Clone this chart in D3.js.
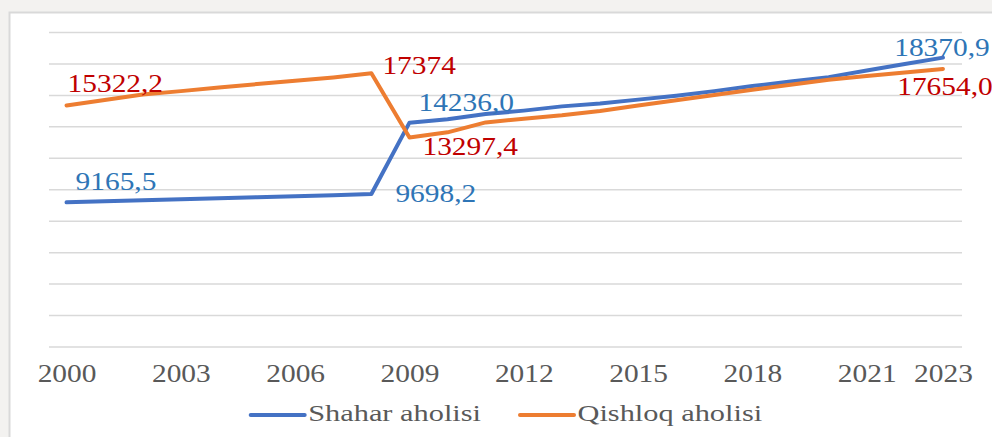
<!DOCTYPE html>
<html lang="uz">
  <head>
    <meta charset="utf-8">
    <title>Shahar va qishloq aholisi</title>
    <script src="https://d3js.org/d3.v7.min.js"></script>
    <style>
      body { margin: 0; background: #f3f2f0; }
      svg { display: block; }
      svg text { font-family: "Liberation Serif", "Times New Roman", "DejaVu Serif", serif; }
    </style>
  </head>
  <body>
    <script type="text/javascript">
    // data
    var years = d3.range(2000, 2024);
    var tickYears = [2000, 2003, 2006, 2009, 2012, 2015, 2018, 2021, 2023];
    var seriesNames = ["Shahar aholisi", "Qishloq aholisi"];
    var shahar = [9165.5, 9230, 9295, 9360, 9425, 9490, 9555, 9620, 9698.2,
                  14236.0, 14450, 14780, 15000, 15270, 15450, 15700, 15950,
                  16240, 16560, 16850, 17130, 17550, 17960, 18370.9];
    var qishloq = [15322.2, 15680, 16020, 16240, 16470, 16690, 16900, 17110, 17374,
                   13297.4, 13620, 14250, 14480, 14700, 14980, 15320, 15660,
                   15990, 16330, 16650, 16960, 17200, 17430, 17654.0];
    // years whose values get a label, with the text shown
    var shaharLabels = [[2000, "9165,5"], [2008, "9698,2"], [2009, "14236,0"], [2023, "18370,9"]];
    var qishloqLabels = [[2000, "15322,2"], [2008, "17374"], [2009, "13297,4"], [2023, "17654,0"]];

    var w = 992;
    var h = 437;
    var stretch = 1.2;   // the source picture is widened a bit
    var colors = ["#4472C4", "#ED7D31"];
    var labelColors = ["#2E75B6", "#C00000"];

    // label placement relative to its point: [dx, dy, anchor]
    var labelOffsets = [
      { 2000: [9, -12, "start"], 2008: [24, 8, "start"], 2009: [9, -12, "start"], 2023: [-1, -2, "middle"] },
      { 2000: [1, -14, "start"], 2008: [11, 1, "start"], 2009: [13, 18, "start"], 2023: [2, 26, "middle"] }
    ];

    var xScale = d3.scaleLinear()
                   .domain([1999.5, 2023.5])
                   .range([47.5, 962]);

    var yScale = d3.scaleLinear()
                   .domain([0, 20000])
                   .range([346.5, 32]);

    var svg = d3.select("body")
                .append("svg")
                .attr("width", w)
                .attr("height", h);

    svg.append("rect")
       .attr("width", w).attr("height", h)
       .attr("fill", "#f3f2f0");

    svg.append("rect")
       .attr("x", 9.5).attr("y", 12.5)
       .attr("width", w).attr("height", h)
       .attr("fill", "#ffffff")
       .attr("stroke", "#d9d9d9")
       .attr("stroke-width", 2);

    // gridlines
    var yAxis = d3.axisLeft(yScale)
                  .tickValues(d3.range(0, 20001, 2000))
                  .tickSize(-(962 - 49))
                  .tickFormat("");

    var grid = svg.append("g")
                  .attr("transform", "translate(49,0)")
                  .call(yAxis);
    grid.select(".domain").remove();
    grid.selectAll(".tick line")
        .attr("stroke", "#d9d9d9")
        .attr("stroke-width", 1.5);

    // x axis
    var xAxis = d3.axisBottom(xScale)
                  .tickValues(tickYears)
                  .tickSize(0)
                  .tickFormat(d3.format("d"));

    var xg = svg.append("g")
                .attr("transform", "translate(0," + yScale(0) + ")")
                .call(xAxis)
                .attr("font-family", null);
    xg.select(".domain").remove();
    xg.selectAll("text")
      .attr("y", 35.2)
      .attr("dy", null)
      .attr("transform", "scale(" + stretch + ",1)")
      .attr("font-size", "24.5px")
      .attr("fill", "#595959");

    // lines
    var allSeries = [shahar, qishloq];
    var line = d3.line()
                 .x(function(d, i) { return xScale(years[i]); })
                 .y(function(d) { return yScale(d); });

    svg.selectAll("path.series")
       .data(allSeries)
       .enter()
       .append("path")
       .attr("class", "series")
       .attr("d", line)
       .attr("fill", "none")
       .attr("stroke", function(d, i) { return colors[i]; })
       .attr("stroke-width", 4)
       .attr("stroke-linejoin", "round")
       .attr("stroke-linecap", "round");

    // data labels
    [shaharLabels, qishloqLabels].forEach(function(labels, s) {
      labels.forEach(function(l) {
        var yr = l[0];
        var val = allSeries[s][years.indexOf(yr)];
        var off = labelOffsets[s][yr];
        svg.append("g")
           .attr("transform", "translate(" + (xScale(yr) + off[0]) + "," + (yScale(val) + off[1]) + ")")
           .append("text")
           .attr("transform", "scale(" + stretch + ",1)")
           .attr("text-anchor", off[2])
           .attr("font-size", "24.5px")
           .attr("fill", labelColors[s])
           .text(l[1]);
      });
    });

    // legend
    var legendX = [250.7, 520];
    var legend = svg.selectAll("g.legend")
                    .data(seriesNames)
                    .enter()
                    .append("g")
                    .attr("class", "legend")
                    .attr("transform", function(d, i) { return "translate(" + legendX[i] + ",415)"; });

    legend.append("line")
          .attr("x1", 0).attr("x2", 54)
          .attr("stroke", function(d, i) { return colors[i]; })
          .attr("stroke-width", 4)
          .attr("stroke-linecap", "round");

    legend.append("text")
          .attr("transform", "translate(57.5,6) scale(1.32,1)")
          .attr("font-size", "23px")
          .attr("fill", "#595959")
          .text(function(d) { return d; });
    </script>
  </body>
</html>
